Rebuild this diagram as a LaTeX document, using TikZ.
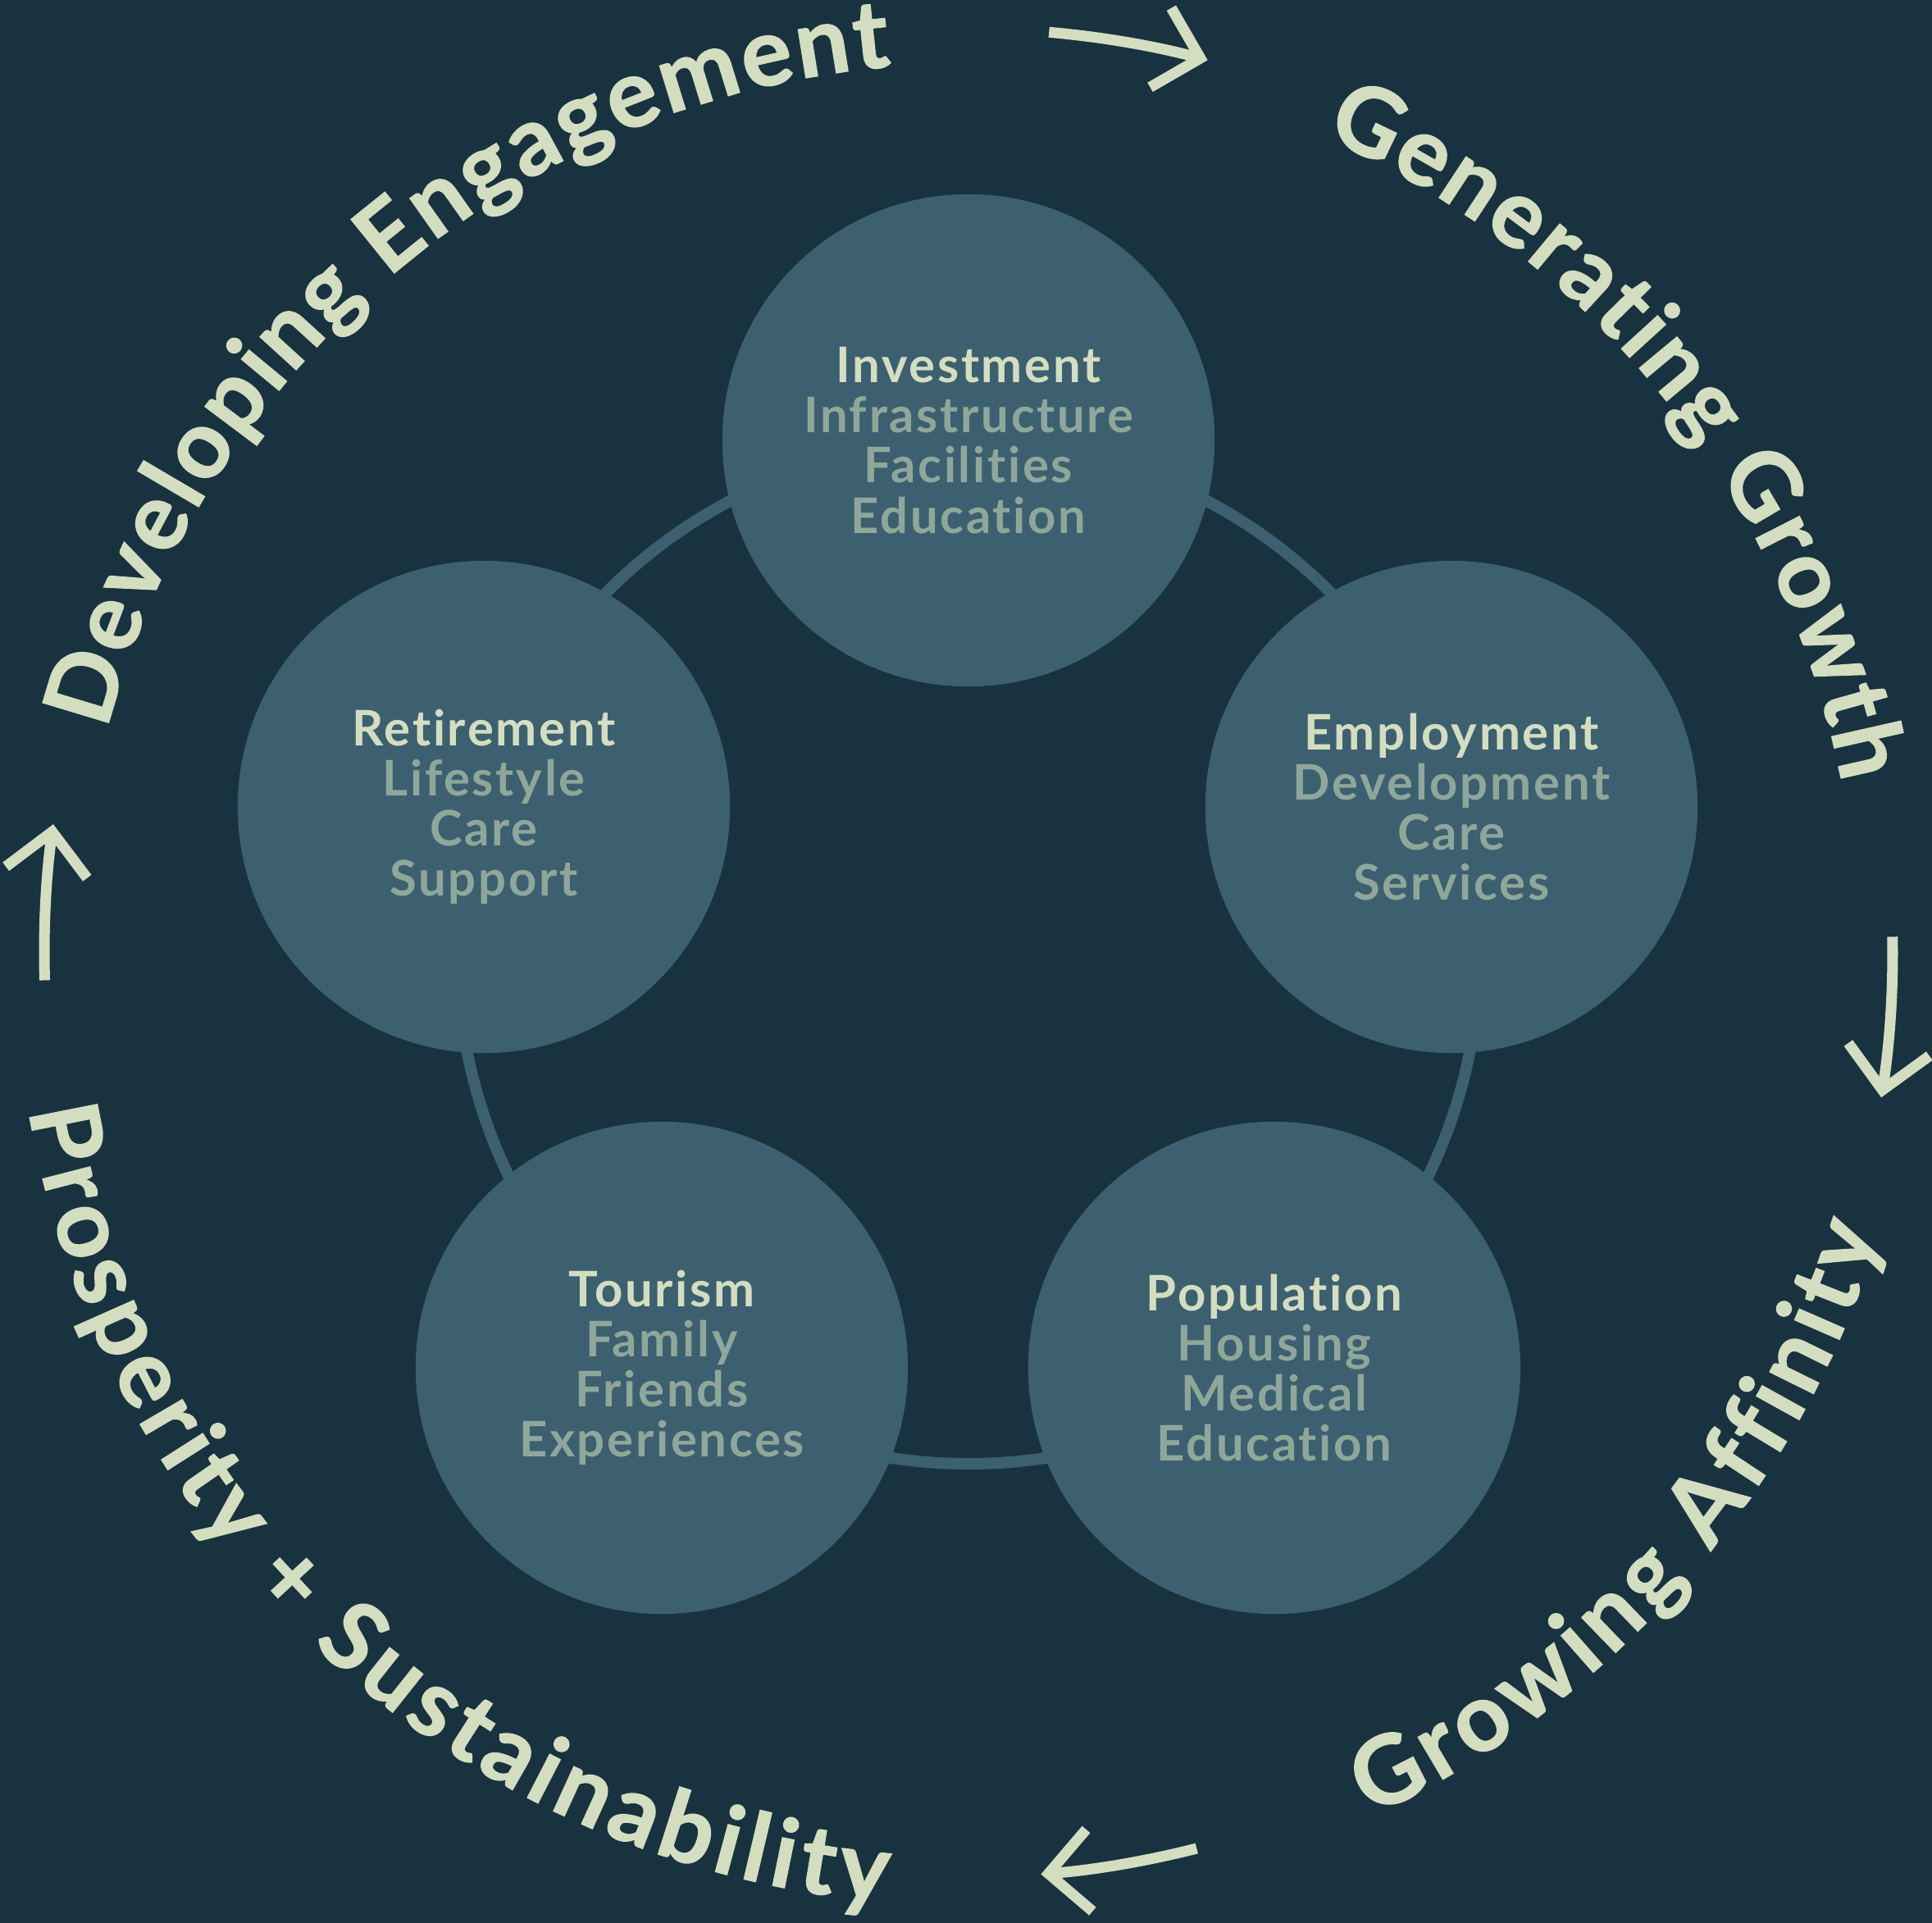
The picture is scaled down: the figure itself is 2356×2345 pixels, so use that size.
\documentclass[tikz,border=0pt]{standalone}
\usepackage{fontspec}
\setmainfont{Lato}[Ligatures={NoCommon,NoRequired,NoContextual}]
\newfontfamily\mottofont{Lato}[Ligatures={NoCommon,NoRequired,NoContextual}, BoldFeatures={FakeBold=1.2}]
\usepackage{tikz}
\usetikzlibrary{arrows.meta,decorations.text}

\definecolor{bgnavy}{HTML}{19323F}
\definecolor{discblue}{HTML}{3D6070}
\definecolor{sage}{HTML}{D3DEC0}
\definecolor{sagemute}{HTML}{8FA79A}

\begin{document}
\begin{tikzpicture}[x=0.01cm, y=0.01cm,
    disc/.style={circle, fill=discblue, minimum size=6cm, inner sep=0pt, align=center,
        text=sagemute, font=\bfseries\fontsize{17}{17.4}\selectfont\addfontfeature{LetterSpace=4.5}}]
            \tikzset{ring/.style = {draw=discblue, line width=0.14cm}}
            \tikzset{turn/.style = {draw=sage, line width=0.13cm, -{Straight Barb[length=0.5cm,width=1cm]}}}
            \tikzset{motto/.style = {decorate, decoration={text along path, text align=fit to path,
                text={|\mottofont\bfseries\fontsize{33}{38}\selectfont\color{sage}|#1}}}}

            \useasboundingbox (-1181,-1183) rectangle (1175,1162);
            \fill[bgnavy] (-1181,-1183) rectangle (1175,1162);
            \coordinate (hub) at (0,0);

            \draw [ring] (hub) circle[radius=623];

            \node[disc] (invest) at (0,625) {\textcolor{sage}{Investment}\\Infrastructure\\Facilities\\Education};
            \node[disc] (employ) at (589,178) {\textcolor{sage}{Employment}\\Development\\Care\\Services};
            \node[disc] (popul) at (373,-506) {\textcolor{sage}{Population}\\Housing\\Medical\\Education};
            \node[disc] (tour) at (-374,-506) {\textcolor{sage}{Tourism}\\Family\\Friends\\Experiences};
            \node[disc] (retire) at (-591,178) {\textcolor{sage}{Retirement}\\Lifestyle\\Care\\Support};

            % outer cycle
            \path [motto={Developing Engagement}] (hub) ++(165.5:1085) arc[start angle=165.5, end angle=95, radius=1085];
            \path [motto={Generating Growth}] (hub) ++(66.5:1085) arc[start angle=66.5, end angle=11, radius=1085];
            \path [motto={Growing Affinity}] (hub) ++(-65:1162) arc[start angle=-65, end angle=-17, radius=1162];
            \path [motto={Prosperity + Sustainability}] (hub) ++(189.5:1162) arc[start angle=189.5, end angle=265, radius=1162];

            \draw [turn] (hub) ++(85:1127) arc[start angle=85, end angle=75, radius=1127];
            \draw [turn] (hub) ++(1:1127) arc[start angle=1, end angle=-9, radius=1127];
            \draw [turn] (hub) ++(-75.7:1127) arc[start angle=-75.7, end angle=-85.5, radius=1127];
            \draw [turn] (hub) ++(181.7:1127) arc[start angle=181.7, end angle=172, radius=1127];
\end{tikzpicture}
\end{document}
